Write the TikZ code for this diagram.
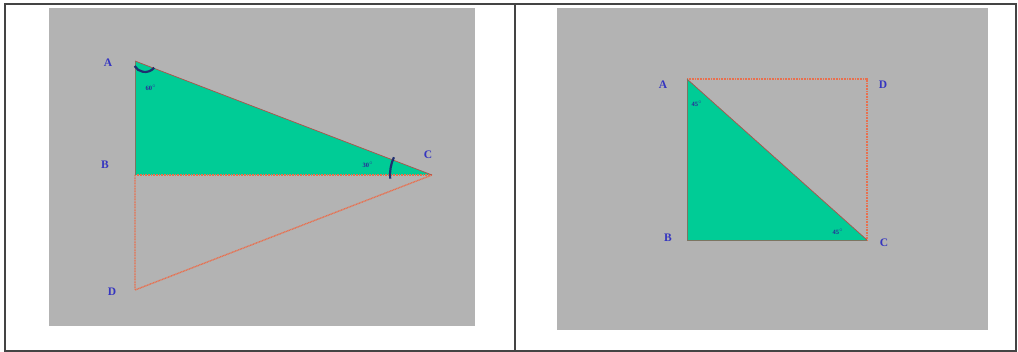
\documentclass[tikz,border=0pt]{standalone}
\usepackage{fontspec}
\setmainfont{Liberation Serif}
\usetikzlibrary{calc}
\definecolor{panelgray}{HTML}{B3B3B3}
\definecolor{trigreen}{HTML}{00CC96}
\definecolor{dotred}{HTML}{E8704F}
\definecolor{edgered}{HTML}{B0504A}
\definecolor{lblblue}{HTML}{3535C0}
\definecolor{arcblue}{HTML}{1F2F70}
\definecolor{framegray}{HTML}{444444}
\tikzset{
  vlabel/.style={text=lblblue, font=\bfseries\fontsize{11.5}{12}\selectfont, inner sep=0pt},
  anglabel/.style={text=lblblue!80!black, font=\bfseries\fontsize{6.5}{7}\selectfont, inner sep=0pt},
  dotline/.style={draw=dotred, line width=1.4pt, dash pattern=on 1pt off 0.6pt},
  triedge/.style={draw=edgered, line width=0.7pt},
  anglearc/.style={draw=arcblue, line width=2.2pt},
  panel/.style={fill=panelgray, draw=none},
}
\begin{document}
\begin{tikzpicture}[x=1pt,y=-1pt]
\useasboundingbox (0,0) rectangle (1018,352);
% frame
\draw[framegray, line width=1.6pt] (5,4) rectangle (1016,351);
\draw[framegray, line width=1.6pt] (515,4) -- (515,351);
% panels
\fill[panel] (49,8) rectangle (475,326);
\fill[panel] (557,8) rectangle (988,330);

% ---- left figure ----
\coordinate (LA) at (135,61);
\coordinate (LB) at (135,175);
\coordinate (LC) at (432,175);
\coordinate (LD) at (135,290);
\coordinate (LAc) at (145,60);
\fill[trigreen] (LA) -- (LB) -- (LC) -- cycle;
\path[dotline] (LB) -- (LD) -- (LC);
\path[dotline] (LB) -- (LC);
\path[triedge] (LA) -- (LC);
\path[draw=edgered!70!trigreen, line width=0.5pt] (LA) -- (LB);
% angle arcs
\draw[anglearc] ($(LAc)+({12*cos(40)},{12*sin(40)})$) arc[start angle=40, end angle=150, radius=12];
\draw[anglearc] ($(LC)+({42*cos(175)},{42*sin(175)})$) arc[start angle=175, end angle=205, radius=42];
\node[vlabel] (lA) at (108,63) {A};
\node[vlabel] (lB) at (105,165) {B};
\node[vlabel] (lC) at (428,155) {C};
\node[vlabel] (lD) at (112,292) {D};
\node[anglabel] (l60) at (151,88) {60$^{\circ}$};
\node[anglabel] (l30) at (368,165) {30$^{\circ}$};

% ---- right figure ----
\coordinate (RA) at (687,79);
\coordinate (RB) at (687,240);
\coordinate (RC) at (867,240);
\coordinate (RD) at (867,79);
\fill[trigreen] (RA) -- (RB) -- (RC) -- cycle;
\path[dotline] (RA) -- (RD) -- (RC);
\path[triedge] (RA) -- (RC);
\path[draw=edgered!70!trigreen, line width=0.5pt] (RA) -- (RB) -- (RC);
\node[vlabel] (rA) at (663,85) {A};
\node[vlabel] (rD) at (883,85) {D};
\node[vlabel] (rB) at (668,238) {B};
\node[vlabel] (rC) at (884,243) {C};
\node[anglabel] (r45a) at (697,104) {45$^{\circ}$};
\node[anglabel] (r45b) at (838,232) {45$^{\circ}$};
\end{tikzpicture}
\end{document}
